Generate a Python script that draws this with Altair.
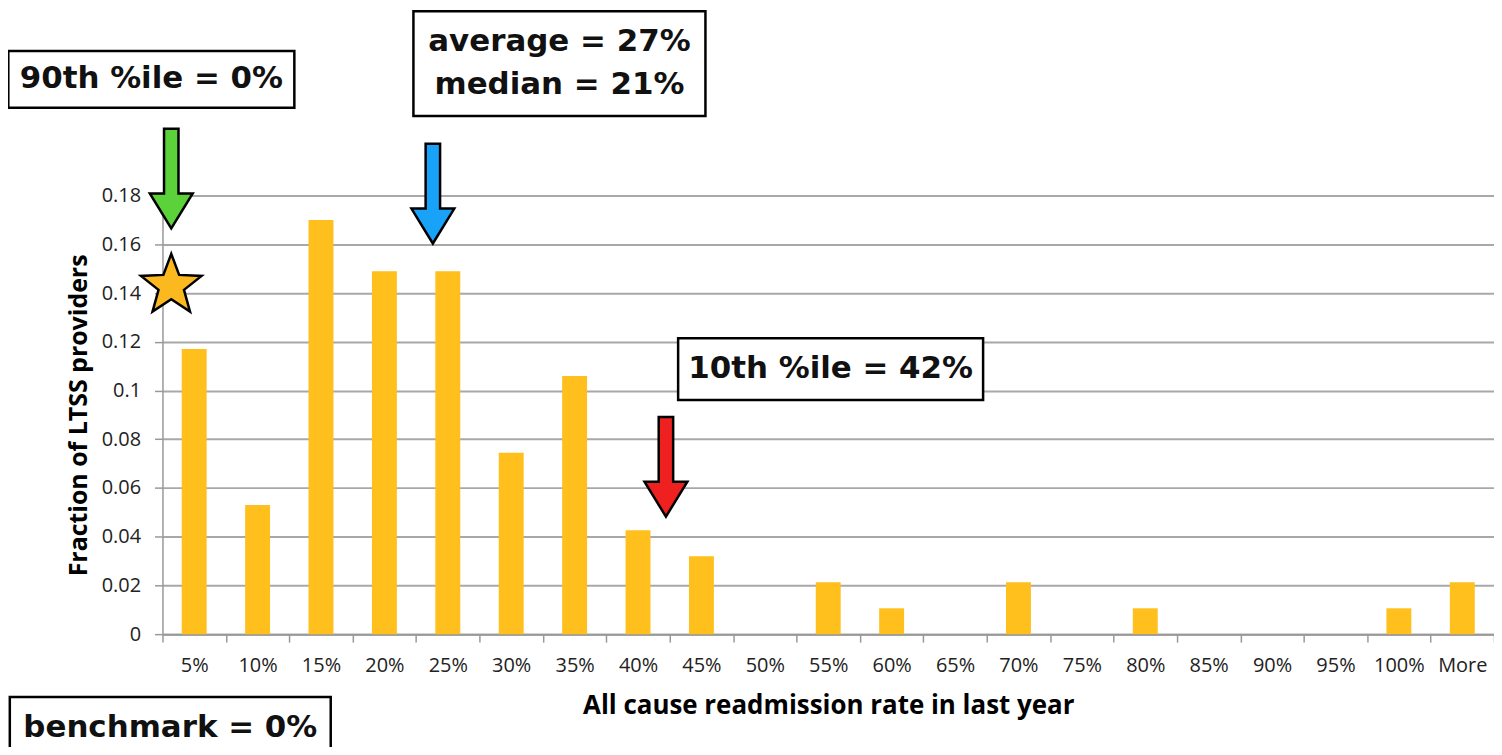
import math
import altair as alt
import pandas as pd

# ---------------- data ----------------
bins = ["5%", "10%", "15%", "20%", "25%", "30%", "35%", "40%", "45%", "50%",
        "55%", "60%", "65%", "70%", "75%", "80%", "85%", "90%", "95%", "100%", "More"]
fractions = [0.117, 0.053, 0.170, 0.149, 0.149, 0.0745, 0.106, 0.0426, 0.032, 0.0,
             0.0213, 0.0106, 0.0, 0.0213, 0.0, 0.0106, 0.0, 0.0, 0.0, 0.0106, 0.0213]
y_ticks = [0, 0.02, 0.04, 0.06, 0.08, 0.1, 0.12, 0.14, 0.16, 0.18]

# annotation anchors (category, value)
arrow_bins = ["5%", "25%", "40%"]
arrow_values = [0.187, 0.1808, 0.0687]
arrow_colors = ["#5BD13A", "#18A2F8", "#EE2020"]
star_bin, star_value = "5%", 0.143
box_texts = [["90th %ile = 0%"], ["average = 27%", "median = 21%"],
             ["10th %ile = 42%"], ["benchmark = 0%"]]
box_bins = ["5%", "25%", "50%", "5%"]
box_values = [0.2277, 0.2342, 0.1088, -0.0385]

df = pd.DataFrame({"bin": bins, "frac": fractions})

X = alt.X("bin:N", sort=bins, title="All cause readmission rate in last year",
          scale=alt.Scale(paddingInner=0, paddingOuter=0),
          axis=alt.Axis(labelAngle=0, labelFont="Open Sans", labelFontSize=20, labelColor="#222",
                        labelPadding=13, tickBand="extent", tickSize=8, tickColor="#999",
                        tickWidth=1.5, domainColor="#999", domainWidth=2,
                        titleFont="Open Sans", titleFontSize=26, titleFontWeight="bold",
                        titleColor="#000", titlePadding=18))
Y = alt.Y("frac:Q", title="Fraction of LTSS providers",
          scale=alt.Scale(domain=[0, 0.18], nice=False),
          axis=alt.Axis(values=y_ticks, labelExpr="format(datum.value, '~g')",
                        labelFont="Open Sans", labelFontSize=20, labelColor="#222",
                        labelPadding=14, tickSize=8, tickColor="#999", tickWidth=1.5,
                        domainColor="#999", domainWidth=1.5,
                        gridColor="#a8a8a8", gridWidth=2,
                        titleFont="Open Sans", titleFontSize=25, titleFontWeight="bold",
                        titleColor="#000", titlePadding=10))

bars = alt.Chart(df).mark_bar(size=25, color="#FFBF1C").encode(x=X, y=Y)

ARROW = "M-0.145,-1 L0.145,-1 L0.145,0.3 L0.43,0.3 L0,1 L-0.43,0.3 L-0.145,0.3 Z"


def pt_layer(cat, val, **mark):
    d = pd.DataFrame({"bin": [cat], "frac": [val]})
    return alt.Chart(d).mark_point(**mark).encode(
        x=alt.X("bin:N", sort=bins), y=alt.Y("frac:Q"))


def txt_layer(cat, val, text, **mark):
    d = pd.DataFrame({"bin": [cat], "frac": [val]})
    return alt.Chart(d).mark_text(text=text if len(text) > 1 else text[0], **mark).encode(
        x=alt.X("bin:N", sort=bins), y=alt.Y("frac:Q"))


layers = [bars]

arrow_dx = [-23, -15, 28]
for c, v, col, dx in zip(arrow_bins, arrow_values, arrow_colors, arrow_dx):
    layers.append(pt_layer(c, v, shape=ARROW, size=10000, filled=True, fill=col,
                           stroke="#000", strokeWidth=2.5, opacity=1, xOffset=dx))

# star
pts = []
for k in range(10):
    r = 1.0 if k % 2 == 0 else 0.42
    a = math.pi * k / 5
    pts.append(f"{r*math.sin(a):.4f},{-r*math.cos(a):.4f}")
STAR = "M" + " L".join(pts) + " Z"
layers.append(pt_layer(star_bin, star_value, shape=STAR, size=4096, filled=True,
                       fill="#FBB91F", stroke="#000", strokeWidth=2.5, opacity=1,
                       xOffset=-23))

box_dx = [-43, 112, 66, -24]
box_wh = [(287, 57), (293, 105), (306, 62), (322, 62)]
for txt, c, v, dx, (w, h) in zip(box_texts, box_bins, box_values, box_dx, box_wh):
    hr = h / w
    path = f"M-1,{-hr:.4f} L1,{-hr:.4f} L1,{hr:.4f} L-1,{hr:.4f} Z"
    layers.append(pt_layer(c, v, shape=path, size=w * w, filled=True, fill="#fff",
                           stroke="#000", strokeWidth=2.5, opacity=1, xOffset=dx))
    shift = -22 * (len(txt) - 1)
    layers.append(txt_layer(c, v, txt, font="DejaVu Sans", fontWeight="bold",
                            fontSize=31, color="#111", align="center",
                            baseline="middle", lineHeight=44, xOffset=dx, dy=shift))

chart = alt.layer(*layers).properties(
    width=1336, height=440,
    autosize=alt.AutoSizeParams(type="none"),
    padding={"left": 155, "top": 187, "right": 0, "bottom": 112},
).configure_view(stroke=None).configure_axisX(grid=False)

chart.save("out.html", embed_options={"renderer": "svg", "actions": False})
